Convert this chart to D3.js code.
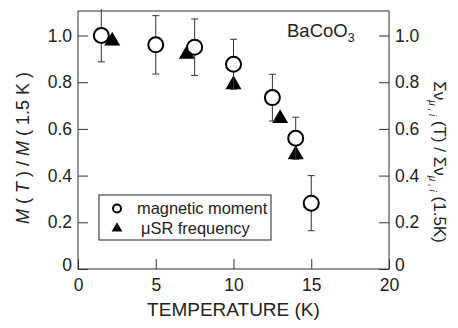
<!DOCTYPE html>
<html>
<head>
<meta charset="utf-8">
<script src="https://cdn.jsdelivr.net/npm/d3@7"></script>
<style>
  body { margin: 0; background: #fff; }
  svg { font-family: "Liberation Sans", Arial, sans-serif; }
  .axis path, .axis line { stroke: #333; }
  .axis text { font-size: 17.5px; fill: #222; }
</style>
</head>
<body>
<svg id="chart" width="458" height="328"></svg>
<script>
// magnetic moment (open circles, with error bars)
var momentTemp = [1.5, 5, 7.5, 10, 12.5, 14, 15];
var momentVal  = [1.0, 0.96, 0.95, 0.877, 0.734, 0.56, 0.282];
var momentErr  = [0.113, 0.125, 0.121, 0.107, 0.1, 0.09, 0.118];
// muSR frequency (filled triangles)
var freqTemp = [2.2, 7.0, 10, 13, 14];
var freqVal  = [0.977, 0.92, 0.79, 0.645, 0.49];

var xTicks = [0, 5, 10, 15, 20];
var yTicks = [0, 0.2, 0.4, 0.6, 0.8, 1.0];

var margin = { top: 11, right: 69, bottom: 59, left: 78 };
var width = 458, height = 328;
var contentWidth = width - margin.left - margin.right;
var contentHeight = height - margin.top - margin.bottom;

var svg = d3.select("#chart");
var g = svg.append("g").attr("transform", "translate(" + margin.left + "," + margin.top + ")");

var xScale = d3.scaleLinear().domain([0, 20]).range([0, contentWidth]);
var yScale = d3.scaleLinear().domain([0, 1.105]).range([contentHeight, 0]);

var yFmt = function (d) { return d === 0 ? "0" : d3.format(".1f")(d); };

// frame
g.append("rect")
  .attr("width", contentWidth).attr("height", contentHeight)
  .attr("fill", "none").attr("stroke", "#333").attr("stroke-width", 1);

g.append("g")
  .attr("class", "x axis")
  .attr("transform", "translate(0," + contentHeight + ")")
  .call(d3.axisBottom(xScale).tickValues(xTicks).tickSizeInner(-10).tickSizeOuter(0).tickPadding(10));

g.append("g")
  .attr("class", "y axis")
  .call(d3.axisLeft(yScale).tickValues(yTicks).tickFormat(yFmt).tickSizeInner(-10).tickSizeOuter(0).tickPadding(6));

g.append("g")
  .attr("class", "y axis")
  .attr("transform", "translate(" + contentWidth + ",0)")
  .call(d3.axisRight(yScale).tickValues(yTicks).tickFormat(yFmt).tickSizeInner(-10).tickSizeOuter(0).tickPadding(6));

g.selectAll(".axis .domain").remove();
// the "0" labels of the y axes sit a little high, as in the source
g.selectAll(".y.axis .tick text").filter(function (d) { return d === 0; }).attr("dy", "0.1em");

// triangles (under the circles)
var tri = d3.symbol().type(d3.symbolTriangle).size(111);
g.selectAll(".tri")
  .data(freqTemp.map(function (t, i) { return { x: t, y: freqVal[i] }; }))
  .enter().append("path")
  .attr("class", "tri")
  .attr("d", tri)
  .attr("transform", function (d) { return "translate(" + xScale(d.x) + "," + yScale(d.y) + ")"; })
  .attr("fill", "#000");

var moment = momentTemp.map(function (t, i) { return { x: t, y: momentVal[i], e: momentErr[i] }; });
var yMax = yScale.domain()[1];

// error bars
var eb = g.selectAll(".err").data(moment).enter().append("g").attr("class", "err")
  .attr("stroke", "#333").attr("stroke-width", 1);
eb.append("line")
  .attr("x1", function (d) { return xScale(d.x); })
  .attr("x2", function (d) { return xScale(d.x); })
  .attr("y1", function (d) { return yScale(d.y - d.e); })
  .attr("y2", function (d) { return yScale(d.y + d.e); });
eb.each(function (d) {
  var s = d3.select(this);
  [d.y - d.e, d.y + d.e].forEach(function (v) {
    if (v > yMax) return;
    s.append("line")
      .attr("x1", xScale(d.x) - 3.5).attr("x2", xScale(d.x) + 3.5)
      .attr("y1", yScale(v)).attr("y2", yScale(v));
  });
});

g.selectAll(".circ")
  .data(moment)
  .enter().append("circle")
  .attr("class", "circ")
  .attr("cx", function (d) { return xScale(d.x); })
  .attr("cy", function (d) { return yScale(d.y); })
  .attr("r", 7.5)
  .attr("fill", "#fff").attr("stroke", "#000").attr("stroke-width", 2);

// legend
var lg = g.append("g").attr("transform", "translate(21,184)");
lg.append("rect").attr("width", 172).attr("height", 45)
  .attr("fill", "#fff").attr("stroke", "#222").attr("stroke-width", 1);
lg.append("circle").attr("cx", 18).attr("cy", 13.5).attr("r", 4)
  .attr("fill", "#fff").attr("stroke", "#000").attr("stroke-width", 2);
lg.append("path").attr("d", d3.symbol().type(d3.symbolTriangle).size(50))
  .attr("transform", "translate(18,33.5)").attr("fill", "#000");
lg.append("text").attr("x", 38).attr("y", 19).attr("font-size", 16.4).attr("fill", "#222")
  .text("magnetic moment");
lg.append("text").attr("x", 42).attr("y", 39).attr("font-size", 16.4).attr("fill", "#222")
  .text("\u03bcSR frequency");

// compound label
var bl = g.append("text").attr("x", 209).attr("y", 26).attr("font-size", 18.5).attr("fill", "#222");
bl.append("tspan").text("BaCoO");
bl.append("tspan").attr("font-size", 12.5).attr("dy", 5).text("3");

// x label
svg.append("text")
  .attr("x", margin.left + contentWidth / 2).attr("y", 316)
  .attr("text-anchor", "middle").attr("font-size", 19).attr("fill", "#222")
  .text("TEMPERATURE (K)");

// left y label
var yl = svg.append("text")
  .attr("transform", "translate(29,148) rotate(-90)")
  .attr("text-anchor", "middle").attr("font-size", 18).attr("fill", "#222");
yl.append("tspan").attr("font-style", "italic").text("M");
yl.append("tspan").text(" ( ");
yl.append("tspan").attr("font-style", "italic").text("T");
yl.append("tspan").text(" ) / ");
yl.append("tspan").attr("font-style", "italic").text("M");
yl.append("tspan").text(" ( 1.5 K )");

// right y label
var yr = svg.append("text")
  .attr("transform", "translate(434,162) rotate(90)")
  .attr("text-anchor", "middle").attr("font-size", 17).attr("fill", "#222");
yr.append("tspan").text("\u03a3\u03bd");
yr.append("tspan").attr("font-size", 10).attr("dy", 5).attr("font-style", "italic").text("\u03bc , i");
yr.append("tspan").attr("dy", -5).text(" (T) / \u03a3\u03bd");
yr.append("tspan").attr("font-size", 10).attr("dy", 5).attr("font-style", "italic").text("\u03bc , i");
yr.append("tspan").attr("dy", -5).text(" (1.5K)");
</script>
</body>
</html>
